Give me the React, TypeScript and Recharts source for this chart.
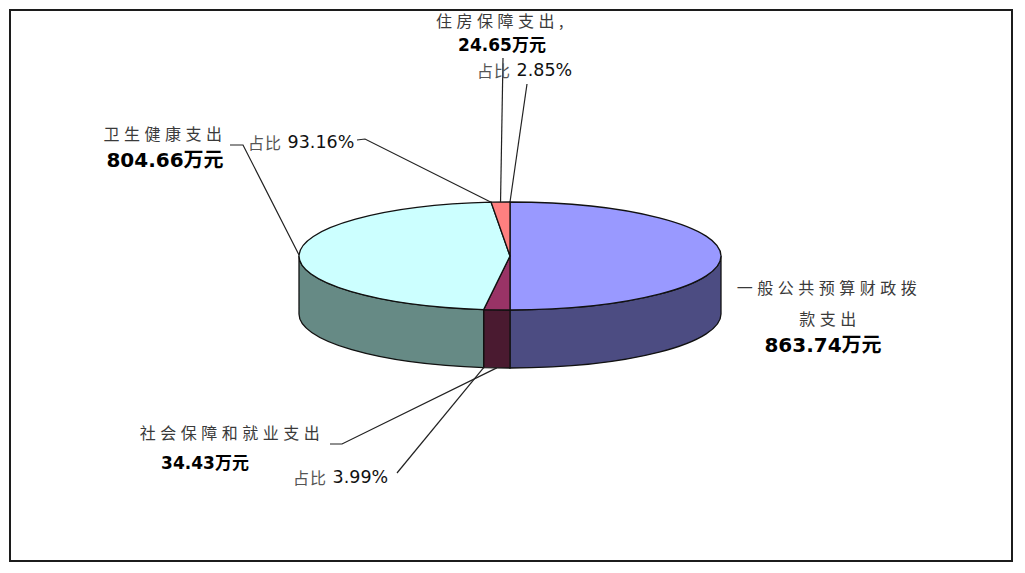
import { Pie, PieChart } from "recharts";

// 2023 支出结构：一般公共预算财政拨款支出按功能分类拆分
const categories = ["一般公共预算财政拨款支出", "社会保障和就业支出", "卫生健康支出", "住房保障支出"];
const amounts = [863.74, 34.43, 804.66, 24.65];
const topColors = ["#9999FF", "#993366", "#CCFFFF", "#FF8080"];
const sideColors = ["#4C4C82", "#4A1A30", "#668A85", "#8A4040"];

const UNIT = "万元";
const TILT = 0.256; // ry / rx of the flattened top face
const DEPTH = 58; // height of the extruded side wall

const chartData = categories.map((name, i) => ({
  name,
  value: amounts[i],
  top: topColors[i],
  side: sideColors[i],
}));

const funding = amounts[0];

const pt = (cx: number, cy: number, rx: number, deg: number, dy = 0) => {
  const r = (deg * Math.PI) / 180;
  return [cx + rx * Math.cos(r), cy - rx * TILT * Math.sin(r) + dy];
};

const renderSlice = (props: any) => {
  const { cx, cy, outerRadius: rx, startAngle, endAngle } = props;
  const entry = props.payload ?? props;
  const ry = rx * TILT;
  const hi = Math.max(startAngle, endAngle);
  const lo = Math.min(startAngle, endAngle);

  // visible front walls: the part of the rim facing the viewer (sin < 0)
  const walls: string[] = [];
  for (let k = -2; k <= 1; k++) {
    const a = Math.max(lo, -180 + 360 * k);
    const b = Math.min(hi, 360 * k);
    if (b - a > 0.01) {
      const [x1, y1] = pt(cx, cy, rx, b);
      const [x2, y2] = pt(cx, cy, rx, a);
      walls.push(
        `M${x1},${y1} A${rx},${ry} 0 0 1 ${x2},${y2} L${x2},${y2 + DEPTH} A${rx},${ry} 0 0 0 ${x1},${y1 + DEPTH} Z`
      );
    }
  }

  const [sx, sy] = pt(cx, cy, rx, hi);
  const [ex, ey] = pt(cx, cy, rx, lo);
  const large = hi - lo > 180 ? 1 : 0;
  const top = `M${cx},${cy} L${sx},${sy} A${rx},${ry} 0 ${large} 1 ${ex},${ey} Z`;

  return (
    <g>
      {walls.map((d, i) => (
        <path key={i} d={d} fill={entry.side} stroke="#111" strokeWidth={1.3} />
      ))}
      <path d={top} fill={entry.top} stroke="#111" strokeWidth={1.3} />
    </g>
  );
};

const nameStyle = {
  fontFamily: '"Noto Sans CJK SC", sans-serif',
  fontSize: 16,
  letterSpacing: 4.5,
  fill: "#3a3a3a",
};

const valueFont = '"DejaVu Sans", "Noto Sans CJK SC", sans-serif';

const Share = ({ x, y, value }: { x: number; y: number; value: number }) => (
  <text x={x} y={y} dominantBaseline="central" fontFamily={valueFont} fontSize={17.5}>
    <tspan fill="#555" fontFamily='"Noto Sans CJK SC", sans-serif' fontSize={16} letterSpacing={1}>
      占比
    </tspan>
    <tspan fill="#111"> {((value / funding) * 100).toFixed(2)}%</tspan>
  </text>
);

const Leader = ({ points }: { points: number[][] }) => (
  <polyline
    points={points.map((p) => p.join(",")).join(" ")}
    fill="none"
    stroke="#222"
    strokeWidth={1.2}
  />
);

const renderLabel = (props: any) => {
  const { cx, cy, outerRadius: rx, midAngle, endAngle, index } = props;
  const name = categories[index];
  const value = amounts[index];
  const amountText = `${value.toFixed(2)}${UNIT}`;
  const top = (a: number) => pt(cx, cy, rx, a);
  const rimBottom = (a: number) => pt(cx, cy, rx, a, DEPTH);

  if (index === 0) {
    return (
      <g>
        <text x={829} y={287} textAnchor="middle" dominantBaseline="central" {...nameStyle}>
          {name.slice(0, 9)}
        </text>
        <text x={830} y={318} textAnchor="middle" dominantBaseline="central" {...nameStyle}>
          {name.slice(9)}
        </text>
        <text x={823} y={345} textAnchor="middle" dominantBaseline="central" fontFamily={valueFont} fontSize={20} fontWeight="bold" fill="#000">
          {amountText}
        </text>
      </g>
    );
  }
  if (index === 1) {
    return (
      <g>
        <Leader points={[[330, 444], [342, 444], rimBottom(midAngle)]} />
        <Leader points={[[397, 473], rimBottom(endAngle)]} />
        <text x={232} y={432} textAnchor="middle" dominantBaseline="central" {...nameStyle}>
          {name}
        </text>
        <text x={205} y={463} textAnchor="middle" dominantBaseline="central" fontFamily={valueFont} fontSize={17} fontWeight="bold" fill="#000">
          {amountText}
        </text>
        <Share x={293} y={477} value={value} />
      </g>
    );
  }
  if (index === 2) {
    return (
      <g>
        <Leader points={[[230, 145], [243, 145], top(midAngle)]} />
        <Leader points={[[357, 140], [365, 139], top(endAngle)]} />
        <text x={165} y={133} textAnchor="middle" dominantBaseline="central" {...nameStyle}>
          {name}
        </text>
        <text x={165} y={160} textAnchor="middle" dominantBaseline="central" fontFamily={valueFont} fontSize={20} fontWeight="bold" fill="#000">
          {amountText}
        </text>
        <Share x={248} y={142} value={value} />
      </g>
    );
  }
  return (
    <g>
      <Leader points={[[503, 58], top(midAngle)]} />
      <Leader points={[[527, 84], top(endAngle)]} />
      <text x={502} y={20} textAnchor="middle" dominantBaseline="central" {...nameStyle}>
        {name},
      </text>
      <text x={502} y={45} textAnchor="middle" dominantBaseline="central" fontFamily={valueFont} fontSize={17} fontWeight="bold" fill="#000">
        {amountText}
      </text>
      <Share x={477} y={70} value={value} />
    </g>
  );
};

export default function App() {
  return (
    <div style={{ position: "absolute", left: 0, top: 0, width: 1025, height: 573, background: "#fff" }}>
      <PieChart width={1025} height={573} margin={{ top: 0, right: 0, bottom: 0, left: 0 }}>
        <Pie
          data={chartData}
          dataKey="value"
          nameKey="name"
          cx={510}
          cy={256}
          outerRadius={211}
          startAngle={90}
          endAngle={-270}
          shape={renderSlice}
          activeShape={renderSlice}
          inactiveShape={renderSlice}
          label={renderLabel}
          labelLine={false}
          isAnimationActive={false}
        />
      </PieChart>
      <div
        style={{
          position: "absolute",
          left: 9,
          top: 9,
          width: 1004,
          height: 553,
          boxSizing: "border-box",
          border: "2.5px solid #1c1c1c",
          pointerEvents: "none",
        }}
      />
    </div>
  );
}
